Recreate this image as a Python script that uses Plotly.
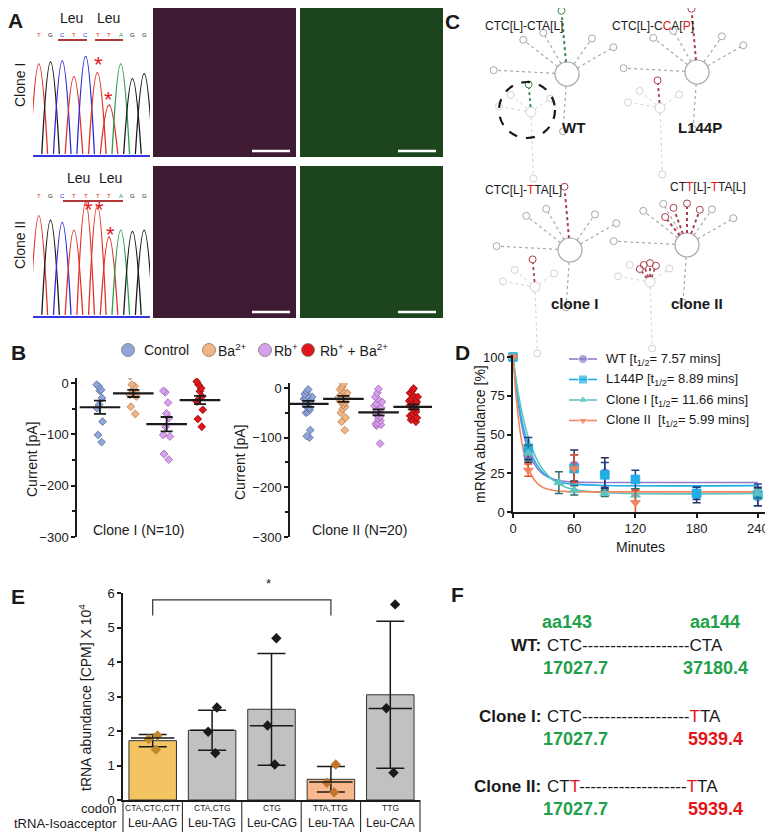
import math
import plotly.graph_objects as go

W, H = 773, 834          # reference frame (pixels)
OFF = 8                  # page body margin the figure is drawn with
FW, FH = W - OFF, H - OFF
FONT = 'Arial, Liberation Sans, sans-serif'
INK = '#1a1a1a'
GREEN = '#1fa04a'
RED = '#e3151b'

# ---------------- data ----------------
# A: Sanger traces (relative peak heights per base call)
seq_clone1 = ['T', 'G', 'C', 'T', 'C', 'T', 'T', 'A', 'G', 'G']
seq_clone2 = ['T', 'G', 'C', 'T', 'T', 'T', 'T', 'A', 'G', 'G']
peaks_clone1 = [0.92, 0.94, 0.95, 0.79, 1.00, 0.83, 0.50, 0.92, 0.77, 0.82]
peaks_clone2 = [0.88, 0.84, 0.82, 0.75, 1.00, 0.97, 0.69, 0.75, 0.74, 0.75]

# B: whole-cell currents [pA]
b_groups = ['Control', 'Ba<sup>2+</sup>', 'Rb<sup>+</sup>', 'Rb<sup>+</sup> + Ba<sup>2+</sup>']
c1_control = [-3, -6, -13, -15, -29, -42, -49, -75, -101, -115]
c1_ba = [14, -3, -6, -13, -16, -18, -23, -26, -46, -60]
c1_rb = [-15, -18, -38, -59, -68, -85, -101, -104, -138, -149]
c1_rbba = [3, -3, -10, -16, -26, -31, -36, -52, -70, -85]
c1_mean = [-47, -20, -80, -33]
c1_sem = [13, 7, 14, 8]
c2_control = [-3, -8, -12, -16, -18, -20, -22, -25, -28, -30, -33, -36, -40, -40, -44, -48, -50, -85, -97, -100]
c2_ba = [8, 2, -3, -6, -10, -14, -18, -20, -22, -24, -26, -28, -30, -34, -38, -42, -50, -60, -68, -85]
c2_rb = [-2, -10, -18, -22, -28, -32, -36, -40, -44, -48, -50, -54, -58, -62, -66, -70, -72, -74, -76, -112]
c2_rbba = [-1, -5, -10, -14, -18, -22, -26, -28, -30, -32, -35, -38, -40, -44, -48, -52, -56, -60, -64, -68]
c2_mean = [-32, -22, -49, -38]
c2_sem = [6, 6, 6, 5]

# D: mRNA decay
d_names = ['WT [t<sub>1/2</sub>= 7.57 mins]', 'L144P [t<sub>1/2</sub>= 8.89 mins]',
           'Clone I [t<sub>1/2</sub>= 11.66 mins]', 'Clone II  [t<sub>1/2</sub>= 5.99 mins]']
wt_t = [0, 15, 60, 90, 180, 240]
wt_y = [100, 36, 30, 25, 11, 10]
wt_err = [0, 4, 10, 10, 5, 6]
l144p_t = [0, 15, 60, 90, 120, 180, 240]
l144p_y = [100, 41, 28, 24, 21, 12, 11]
l144p_err = [0, 7, 9, 8, 6, 4, 7]
clone1_t = [0, 15, 45, 60, 90, 120, 240]
clone1_y = [100, 38, 19, 14, 12, 11, 12]
clone1_err = [0, 5, 7, 3, 2, 4, 3]
clone2_t = [0, 15, 60, 120]
clone2_y = [100, 27, 28, 6]
clone2_err = [0, 4, 9, 8]
fit_t = [0, 5, 10, 15, 20, 25, 30, 40, 50, 60, 90, 240]
fit_wt = [100, 70.2, 51.4, 39.5, 32.0, 27.2, 24.2, 21.1, 19.8, 19.3, 19.0, 19.0]
fit_l144p = [100, 73.2, 55.0, 42.7, 34.4, 28.8, 25.0, 20.7, 18.7, 17.8, 17.1, 17.0]
fit_clone1 = [100, 77.4, 60.6, 48.1, 38.8, 31.9, 26.8, 20.2, 16.5, 14.5, 12.4, 12.0]
fit_clone2 = [100, 61.8, 40.3, 28.3, 21.6, 17.8, 15.7, 13.9, 13.3, 13.1, 13.0, 13.0]

# E: tRNA abundance (CPM x 10^4)
e_isoacceptor = ['Leu-AAG', 'Leu-TAG', 'Leu-CAG', 'Leu-TAA', 'Leu-CAA']
e_codons = ['CTA,CTC,CTT', 'CTA,CTG', 'CTG', 'TTA,TTG', 'TTG']
e_mean = [1.72, 2.02, 2.63, 0.60, 3.05]
e_sd = [0.18, 0.58, 1.62, 0.37, 2.13]
e_median = [1.80, 2.02, 2.15, 0.52, 2.65]
e_points = [[1.87, 1.77, 1.46], [2.68, 1.98, 1.36], [4.69, 2.16, 1.03],
            [1.03, 0.50, 0.22], [5.67, 2.66, 0.79]]

# F: codon usage
f_rows = ['WT:', 'Clone I:', 'Clone II:']
f_codon143 = ['CTC', 'CTC', 'CT<span style="color:%s">T</span>' % RED]
f_codon144 = ['CTA', '<span style="color:%s">T</span>TA' % RED, '<span style="color:%s">T</span>TA' % RED]
f_usage143 = [17027.7, 17027.7, 17027.7]
f_usage144 = [37180.4, 5939.4, 5939.4]


# ---------------- helpers (reference pixels -> paper) ----------------
def px(x):
    return (x - OFF) / FW


def py(y):
    return 1 - (y - OFF) / FH


def xdom(a, b):
    return [px(a), px(b)]


def ydom(top, bot):
    return [py(bot), py(top)]


annotations = []
shapes = []


def ann(x, y, text, size=13, color=INK, xanchor='center', angle=0, **kw):
    annotations.append(dict(x=px(x), y=py(y), xref='paper', yref='paper', text=text,
                            showarrow=False, xanchor=xanchor, yanchor='middle',
                            textangle=angle, font=dict(size=size, color=color, family=FONT), **kw))


def line(x0, y0, x1, y1, color=INK, width=1.5, dash='solid'):
    shapes.append(dict(type='line', xref='paper', yref='paper', x0=px(x0), y0=py(y0),
                       x1=px(x1), y1=py(y1), line=dict(color=color, width=width, dash=dash)))


def circle(cx, cy, r, color, width=1, fill='rgba(0,0,0,0)', dash='solid'):
    shapes.append(dict(type='circle', xref='paper', yref='paper', x0=px(cx - r), x1=px(cx + r),
                       y0=py(cy + r), y1=py(cy - r), fillcolor=fill,
                       line=dict(color=color, width=width, dash=dash)))


def rect(x0, y0, x1, y1, fill):
    shapes.append(dict(type='rect', xref='paper', yref='paper', x0=px(x0), x1=px(x1),
                       y0=py(y1), y1=py(y0), fillcolor=fill, line=dict(width=0), layer='below'))


def rna(cx, cy, r, stems, col, hl_stems, hl_col, lw=1.2):
    # rough secondary-structure sketch: central loop + radial stems with hairpin loops
    circle(cx, cy, r, col, lw)
    for ang, ln, c, w in [(a, l, col, lw) for a, l in stems] + [(a, l, hl_col, lw + 0.8) for a, l in hl_stems]:
        a = math.radians(ang)
        x0, y0 = cx + r * math.cos(a), cy - r * math.sin(a)
        x1, y1 = cx + (r + ln) * math.cos(a), cy - (r + ln) * math.sin(a)
        line(x0, y0, x1, y1, c, w, 'dot')
        circle(x1 + 3.5 * math.cos(a), y1 - 3.5 * math.sin(a), 3.5, c, 1)


fig = go.Figure()

# ---------------- A: chromatograms ----------------
BASE_COL = {'T': '#e0322a', 'G': '#1a1a1a', 'C': '#2b2bd8', 'A': '#2f9a50'}
for ax, seq, heights in [('', seq_clone1, peaks_clone1), ('2', seq_clone2, peaks_clone2)]:
    for i, (b, h) in enumerate(zip(seq, heights), start=1):
        fig.add_trace(go.Scatter(x=[i - 0.75, i, i + 0.75], y=[0, h, 0], mode='lines',
                                 line=dict(color=BASE_COL[b], width=1.3, shape='spline', smoothing=1.3),
                                 xaxis='x' + ax, yaxis='y' + ax, showlegend=False, hoverinfo='skip'))

for seq, ylab in [(seq_clone1, 35), (seq_clone2, 196)]:
    for i, b in enumerate(seq):
        ann(39 + i * 11.7, ylab, b, size=6, color=BASE_COL[b])
line(58, 40, 87, 40, '#b03838', 2)
line(95, 40, 123, 40, '#b03838', 2)
line(63, 201, 123, 201, '#b03838', 2)
ann(72, 18, 'Leu', 14)
ann(108, 18, 'Leu', 14)
ann(78, 178, 'Leu', 14)
ann(110, 178, 'Leu', 14)
for x, y in [(98, 64), (108, 99), (88, 209), (99, 209), (110, 235)]:
    ann(x, y, '*', 22, RED)
ann(20, 85, 'Clone I', 14, angle=-90)
ann(20, 245, 'Clone II', 14, angle=-90)

# confocal panels (image placeholders)
for y0, y1 in [(4, 157), (166, 318)]:
    rect(153, y0, 296, y1, '#3e1a33')
    rect(300, y0, 443, y1, '#1d451d')
    line(252, y1 - 6, 290, y1 - 6, 'white', 2.5)
    line(398, y1 - 6, 436, y1 - 6, 'white', 2.5)

# ---------------- C: RNA structures ----------------
GRAY = '#a8a8a8'
FAINT = '#d3d3d3'
main_stems = [(30, 38), (55, 28), (120, 32), (142, 40), (177, 58), (266, 42)]
sub_stems = [(140, 18), (170, 24), (35, 15), (272, 58)]
for cx, cy, sx, sy, hl, hl_col in [(567, 74, 531, 112, [(95, 48)], '#3a8a4c'),
                                   (697, 72, 660, 108, [(95, 48)], '#a8404e'),
                                   (570, 250, 535, 287, [(95, 48)], '#a8404e'),
                                   (687, 245, 650, 282, [(70, 22), (90, 26), (110, 24), (128, 20)], '#a8404e')]:
    rna(cx, cy, 12, main_stems, GRAY, hl, hl_col)
    rna(sx, sy, 5, sub_stems, FAINT, [(h[0], h[1] * 0.4) for h in hl], hl_col, lw=1)
circle(527, 110, 28, INK, 2.2, dash='dash')
ann(524, 26, 'CTC[L]-CTA[L]', 12)
ann(653, 26, 'CTC[L]-C<span style="color:%s">C</span>A[<span style="color:%s">P</span>]' % (RED, RED), 12)
ann(523, 190, 'CTC[L]-<span style="color:%s">T</span>TA[L]' % RED, 12)
ann(708, 187, 'CT<span style="color:%s">T</span>[L]-<span style="color:%s">T</span>TA[L]' % (RED, RED), 12)
ann(573, 128, '<b>WT</b>', 15)
ann(700, 128, '<b>L144P</b>', 15)
ann(575, 303, '<b>clone I</b>', 15)
ann(697, 303, '<b>clone II</b>', 15)

# ---------------- B: currents ----------------
B_FILL = ['#8fa6d6', '#f3b584', '#d7a0ec', '#e0161b']
B_EDGE = ['#5b6f9e', '#b47a48', '#9a62ad', '#8e0c0c']
for ax, groups, means, sems in [('3', [c1_control, c1_ba, c1_rb, c1_rbba], c1_mean, c1_sem),
                                ('4', [c2_control, c2_ba, c2_rb, c2_rbba], c2_mean, c2_sem)]:
    for i, vals in enumerate(groups):
        fig.add_trace(go.Box(x=[i] * len(vals), y=vals, boxpoints='all', jitter=0.55, pointpos=0,
                             width=0.5, fillcolor='rgba(0,0,0,0)',
                             line=dict(width=0, color='rgba(0,0,0,0)'),
                             marker=dict(symbol='diamond', size=6, color=B_FILL[i],
                                         line=dict(color=B_EDGE[i], width=0.8)),
                             xaxis='x' + ax, yaxis='y' + ax, showlegend=False, hoverinfo='skip'))
    fig.add_trace(go.Scatter(x=list(range(4)), y=means, mode='markers',
                             marker=dict(symbol='line-ew', size=29, line=dict(color=INK, width=2.2)),
                             error_y=dict(type='data', array=sems, color=INK, thickness=1.8, width=6),
                             xaxis='x' + ax, yaxis='y' + ax, showlegend=False, hoverinfo='skip'))

for cx, tx, i in [(128, 142, 0), (209, 216, 1), (265, 272, 2), (308, 318, 3)]:
    circle(cx, 350, 6.5, '#777777', 0.8, B_FILL[i])
    ann(tx, 350, b_groups[i], 14, xanchor='left')
ann(138, 530, 'Clone I (N=10)', 14)
ann(359, 530, 'Clone II (N=20)', 14)
ann(32, 460, 'Current [pA]', 14, angle=-90)
ann(240, 462, 'Current [pA]', 14, angle=-90)

# ---------------- D: decay ----------------
D_COL = ['#8f7dcc', '#21aee6', '#5ec3bf', '#f2875f']
D_ERR = ['#262f63', '#1d3c8c', '#2d6e6b', '#e2502a']
D_SYM = ['circle', 'square', 'triangle-up', 'triangle-down']
d_series = [(wt_t, wt_y, wt_err, fit_wt), (l144p_t, l144p_y, l144p_err, fit_l144p),
            (clone1_t, clone1_y, clone1_err, fit_clone1), (clone2_t, clone2_y, clone2_err, fit_clone2)]
for k, (t, y, err, fit) in enumerate(d_series):
    fig.add_trace(go.Scatter(x=fit_t, y=fit, mode='lines', line=dict(color=D_COL[k], width=1.6, shape='spline'),
                             xaxis='x5', yaxis='y5', showlegend=False, hoverinfo='skip', cliponaxis=False))
for k, (t, y, err, fit) in enumerate(d_series):
    fig.add_trace(go.Scatter(x=t, y=y, mode='markers',
                             marker=dict(symbol=D_SYM[k], size=9, color=D_COL[k],
                                         line=dict(color=D_COL[k], width=0.5)),
                             error_y=dict(type='data', array=err, color=D_ERR[k], thickness=1.5, width=4),
                             xaxis='x5', yaxis='y5', showlegend=False, cliponaxis=False))
# legend drawn on the full-page canvas axes (pixel units)
for k in range(4):
    ly = 359 + 20.5 * k
    fig.add_trace(go.Scatter(x=[569, 583, 597], y=[ly, ly, ly], mode='lines+markers',
                             line=dict(color=D_COL[k], width=1.6),
                             marker=dict(symbol=D_SYM[k], size=[0, 9, 0], color=D_COL[k]),
                             xaxis='x7', yaxis='y7', showlegend=False, hoverinfo='skip'))
    ann(604, ly, d_names[k], 13, xanchor='left')
ann(640, 547, 'Minutes', 14)
ann(480, 434, 'mRNA abundance [%]', 14, angle=-90)

# ---------------- E: tRNA abundance ----------------
E_FILL = ['#f2c462', '#c1c1c1', '#c1c1c1', '#f8b88e', '#c1c1c1']
E_PT = ['#c08a2a', INK, INK, '#c0742e', INK]
xs = list(range(len(e_mean)))
fig.add_trace(go.Bar(x=xs, y=e_mean, width=0.8, marker=dict(color=E_FILL, line=dict(color='#333333', width=1)),
                     error_y=dict(type='data', array=e_sd, color=INK, thickness=1.5, width=14),
                     xaxis='x6', yaxis='y6', showlegend=False, hoverinfo='skip'))
fig.add_trace(go.Scatter(x=xs, y=e_median, mode='markers',
                         marker=dict(symbol='line-ew', size=31, line=dict(color=INK, width=1.5)),
                         xaxis='x6', yaxis='y6', showlegend=False, hoverinfo='skip'))
for i, pts in enumerate(e_points):
    fig.add_trace(go.Box(x=[i] * len(pts), y=pts, boxpoints='all', jitter=0.35, pointpos=0, width=0.6,
                         fillcolor='rgba(0,0,0,0)', line=dict(width=0, color='rgba(0,0,0,0)'),
                         marker=dict(symbol='diamond', size=8, color=E_PT[i]),
                         xaxis='x6', yaxis='y6', showlegend=False, hoverinfo='skip'))
shapes.append(dict(type='path', xref='x6', yref='y6', path='M 0,5.35 L 0,5.8 L 3,5.8 L 3,5.35',
                   line=dict(color='#333333', width=1.2)))
ann(268, 583, '*', 13)
ann(85, 698, 'tRNA abundance [CPM] X 10<sup>4</sup>', 14, angle=-90)
ann(118, 808, 'codon', 13, xanchor='right')
ann(119, 823, 'tRNA-Isoacceptor', 13, xanchor='right')
for i in range(len(e_isoacceptor)):
    cx = 123 + 59.4 * (i + 0.5)
    ann(cx, 808, e_codons[i], 8.5)
    ann(cx, 823, e_isoacceptor[i], 12)
    line(123 + 59.4 * (i + 1), 800, 123 + 59.4 * (i + 1), 832, INK, 1)
line(123, 800, 123, 832, INK, 1)

# ---------------- F: codon usage ----------------
ann(567, 622, '<b>aa143</b>', 18, GREEN)
ann(715, 622, '<b>aa144</b>', 18, GREEN)
for r, yrow in enumerate([645, 716, 786]):
    ann(543, yrow, '<b>%s</b>' % f_rows[r], 17, xanchor='right')
    ann(545, yrow, f_codon143[r] + '-' * 19 + f_codon144[r], 17, xanchor='left')
    ann(575, yrow + 23, '<b>%.1f</b>' % f_usage143[r], 18, GREEN)
    ann(715, yrow + 23, '<b>%.1f</b>' % f_usage144[r], 18, GREEN if r == 0 else RED)

# panel letters
for x, y, t in [(15, 20, 'A'), (18, 352, 'B'), (452, 21, 'C'), (462, 352, 'D'), (18, 596, 'E'), (457, 594, 'F')]:
    ann(x, y, '<b>%s</b>' % t, 21)

# ---------------- layout ----------------
ax_line = dict(showgrid=False, zeroline=False, showline=True, linecolor=INK, linewidth=1.5,
               ticks='outside', tickcolor=INK, ticklen=4, tickwidth=1.5, automargin=False,
               tickfont=dict(size=13, color=INK, family=FONT))
chrom_x = dict(showgrid=False, zeroline=False, showline=True, linecolor='#3535e0', linewidth=1.5,
               showticklabels=False, ticks='', range=[0.5, 10.5], automargin=False)
chrom_y = dict(visible=False, range=[-0.01, 1.0], automargin=False)
b_y = dict(ax_line, range=[-300, 10], dtick=100, tick0=0,
           minor=dict(dtick=50, ticks='outside', ticklen=3, tickcolor=INK))

fig.update_layout(
    width=FW, height=FH, margin=dict(l=0, r=0, t=0, b=0, pad=0), autosize=False,
    paper_bgcolor='white', plot_bgcolor='rgba(0,0,0,0)',
    font=dict(family=FONT, color=INK),
    showlegend=False,
    xaxis=dict(chrom_x, domain=xdom(33, 150), anchor='y'),
    yaxis=dict(chrom_y, domain=ydom(56, 155), anchor='x'),
    xaxis2=dict(chrom_x, domain=xdom(33, 150), anchor='y2'),
    yaxis2=dict(chrom_y, domain=ydom(202, 316), anchor='x2'),
    xaxis3=dict(visible=False, domain=xdom(77, 225), range=[-0.69, 3.75], anchor='y3', automargin=False),
    yaxis3=dict(b_y, domain=ydom(378, 537), anchor='x3'),
    xaxis4=dict(visible=False, domain=xdom(290, 432), range=[-0.52, 3.52], anchor='y4', automargin=False),
    yaxis4=dict(b_y, domain=ydom(383, 537), anchor='x4'),
    xaxis5=dict(ax_line, domain=xdom(513, 768), range=[0, 250], tickvals=[0, 60, 120, 180, 240], anchor='y5'),
    yaxis5=dict(ax_line, domain=ydom(355, 512), range=[0, 101.3], dtick=25, anchor='x5'),
    xaxis6=dict(showgrid=False, zeroline=False, showline=True, linecolor=INK, linewidth=1.5, automargin=False,
                showticklabels=False, ticks='', domain=xdom(123, 420), range=[-0.5, 4.5], anchor='y6'),
    yaxis6=dict(ax_line, domain=ydom(593, 800), range=[0, 6], dtick=1, anchor='x6'),
    xaxis7=dict(visible=False, domain=[0, 1], range=[OFF, W], anchor='y7', automargin=False),
    yaxis7=dict(visible=False, domain=[0, 1], range=[H, OFF], anchor='x7', automargin=False),
    annotations=annotations,
    shapes=shapes,
    boxmode='overlay',
)

fig.write_html('out.html')
